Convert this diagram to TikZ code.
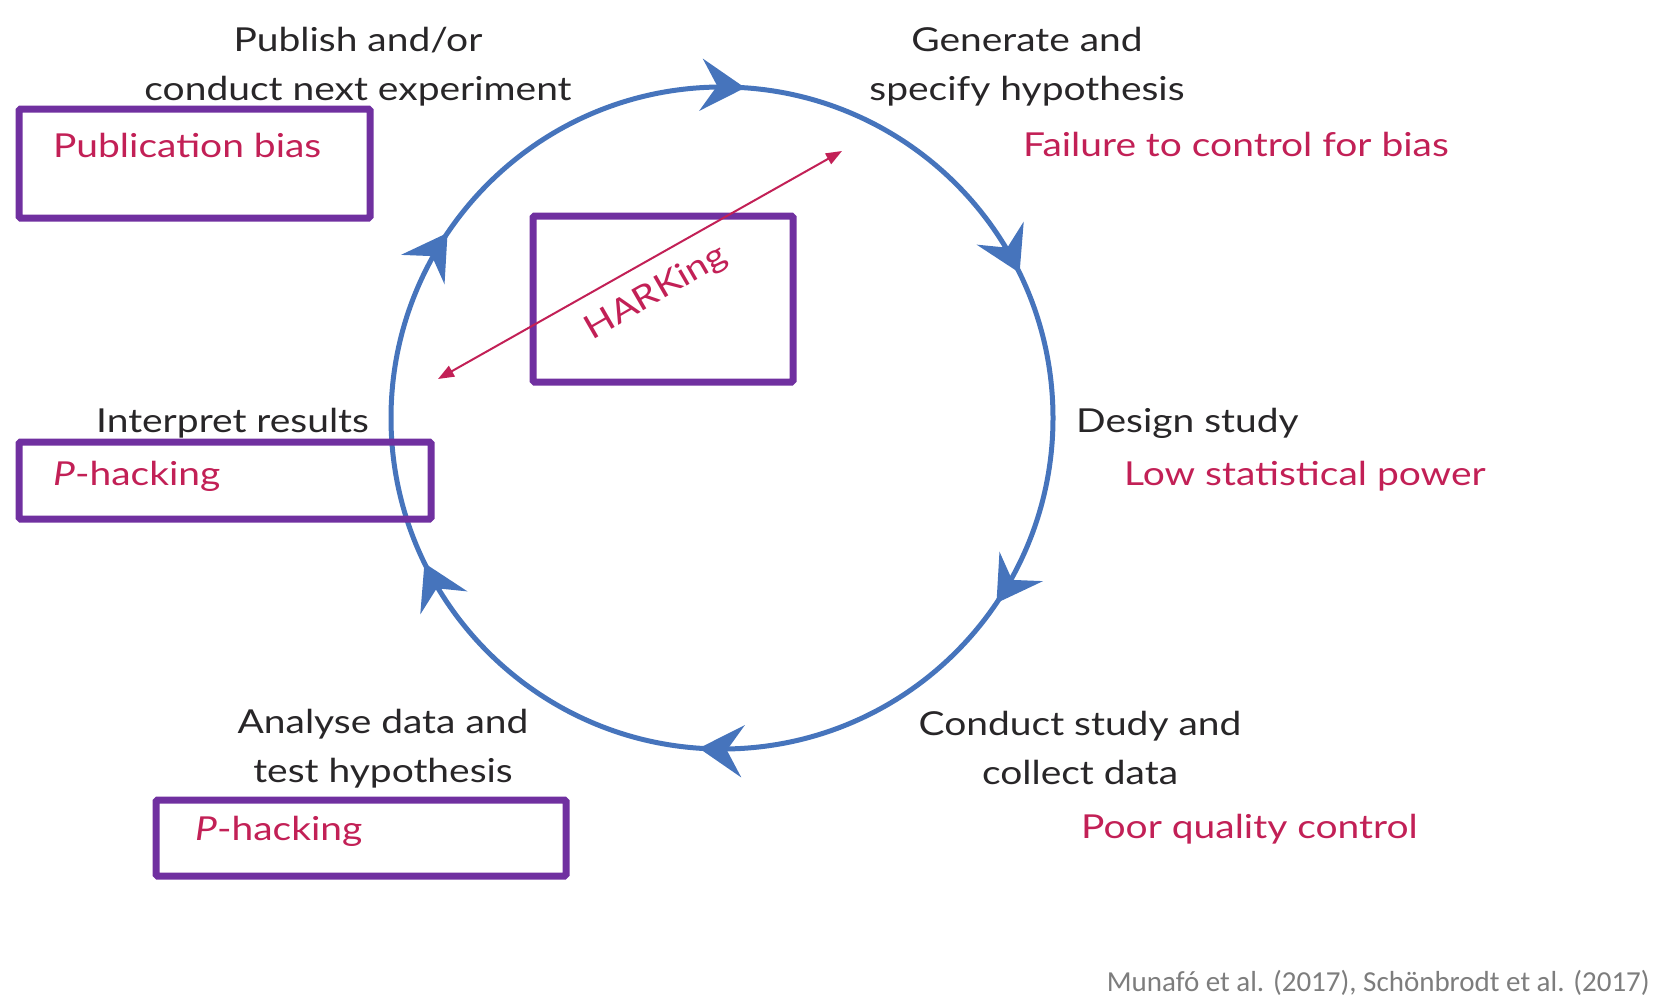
\documentclass[tikz,border=0pt]{standalone}
\usepackage{fontspec}
\setmainfont{Lato}[FakeStretch=1.18]
\newfontfamily\citefont{Carlito}
\usetikzlibrary{arrows.meta,decorations.markings}
\definecolor{cycblue}{RGB}{70,116,188}
\definecolor{hred}{RGB}{194,32,86}
\definecolor{boxpurple}{RGB}{112,48,160}
\definecolor{ink}{RGB}{40,38,40}
\definecolor{citegrey}{RGB}{125,125,125}
\tikzset{
  lbl/.style={text=ink, font=\fontsize{33}{49}\selectfont, align=center, inner sep=0pt},
  bias/.style={text=hred, font=\fontsize{33}{49}\selectfont, inner sep=0pt},
  pbox/.style={draw=boxpurple, line width=7pt, rounded corners=1.5pt},
  cyc/.style={draw=cycblue, line width=5pt},
  barb/.tip={Stealth[length=44pt,width=52pt,inset=16pt]},
  hark/.style={draw=hred, line width=2pt, {Triangle[length=16pt,width=12pt]}-{Triangle[length=16pt,width=12pt]}}
}
\begin{document}
\begin{tikzpicture}[x=1pt,y=1pt]
\useasboundingbox (0,0) rectangle (1675,-998);
% cycle
\coordinate (c) at (722,-418);
\draw[cyc, postaction={decorate}, decoration={markings,
  mark=at position 4/360 with {\arrow[cycblue]{barb}},
  mark=at position 64/360 with {\arrow[cycblue]{barb}},
  mark=at position 124/360 with {\arrow[cycblue]{barb}},
  mark=at position 184/360 with {\arrow[cycblue]{barb}},
  mark=at position 244/360 with {\arrow[cycblue]{barb}},
  mark=at position 304/360 with {\arrow[cycblue]{barb}}}]
  (c) ++(90:331) arc[start angle=90, end angle=-270, radius=331];
% boxes
\node[pbox, minimum width=351pt, minimum height=109pt] (bPub) at (194.5,-163.5) {};
\node[pbox, minimum width=260pt, minimum height=166pt] (bHark) at (663,-299) {};
\node[pbox, minimum width=412pt, minimum height=77pt] (bInt) at (225,-480.5) {};
\node[pbox, minimum width=410pt, minimum height=76pt] (bAna) at (361,-838) {};
% HARKing
\coordinate (hA) at (438,-379);
\coordinate (hB) at (842,-151);
\draw[hark] (hA) -- (hB);
\node[bias, rotate=30] (tHark) at (656,-293) {HARKing};
% stage labels
\node[lbl] (tPub) at (358,-67) {Publish and/or\\conduct next experiment};
\node[lbl] (tGen) at (1027,-67) {Generate and\\specify hypothesis};
\node[lbl, anchor=west] (tDes) at (1076,-423) {Design study};
\node[lbl] (tCon) at (1080,-748) {Conduct study and\\collect data};
\node[lbl] (tAna) at (383,-749) {Analyse data and\\test hypothesis};
\node[lbl, anchor=west] (tInt) at (96,-423) {Interpret results};
% bias labels
\node[bias, anchor=west] (rFail) at (1023,-144) {Failure to control for bias};
\node[bias, anchor=west] (rLow) at (1124,-476) {Low statistical power};
\node[bias, anchor=west] (rPoor) at (1081,-829) {Poor quality control};
\node[bias, anchor=west] (rPub) at (53,-145) {Publication bias};
\node[bias, anchor=west] (rPh1) at (53,-476) {\textit{P}-hacking};
\node[bias, anchor=west] (rPh2) at (195,-831) {\textit{P}-hacking};
% citation
\node[text=citegrey, font=\citefont\fontsize{29}{32}\selectfont, anchor=east, inner sep=0pt] (cite) at (1650,-983) {Munafó et al. (2017), Schönbrodt et al. (2017)};
\end{tikzpicture}
\end{document}
